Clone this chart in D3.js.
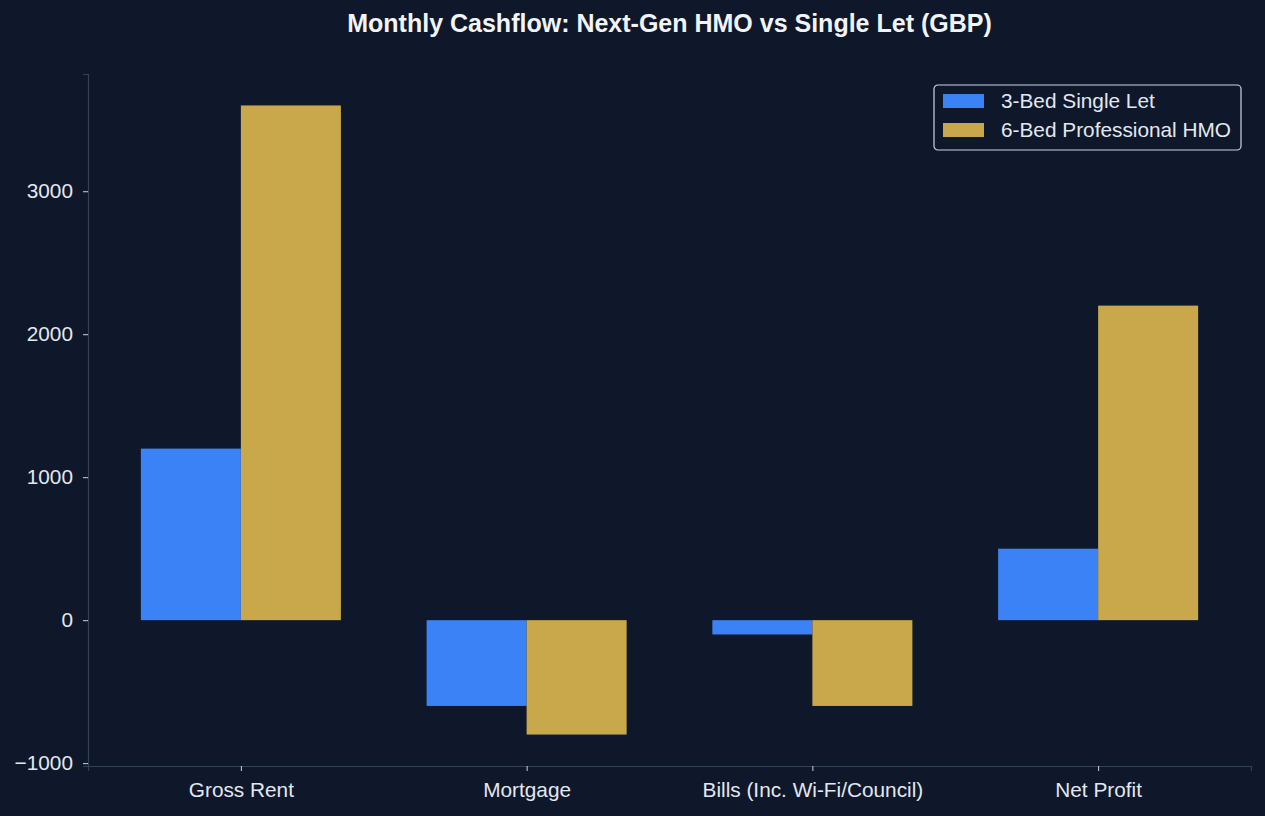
<!DOCTYPE html>
<html>
<head>
	<meta charset="utf-8">
	<script src="https://d3js.org/d3.v7.min.js"></script>
	<style>
		body { margin: 0; background: #0f172a; }
		text { font-family: "Liberation Sans", Arial, sans-serif; }
	</style>
</head>
<body>
	<div id="my_dataviz"></div>
	<script>

	// chart data
	const categories = ["Gross Rent", "Mortgage", "Bills (Inc. Wi-Fi/Council)", "Net Profit"]
	const singleLet = [1200, -600, -100, 500]
	const hmo = [3600, -800, -600, 2200]
	const seriesNames = ["3-Bed Single Let", "6-Bed Professional HMO"]
	const yTicks = [-1000, 0, 1000, 2000, 3000]

	const width = 1265
	const height = 816
	const margin = { left: 88, right: 14, top: 74, bottom: 50 }
	const colors = ["#3b82f6", "#c9a84c"]
	const textColor = "#e2e8f0"
	const spineColor = "#334155"
	const fontSize = "20.8px"

	const svg = d3.select("#my_dataviz")
	  .append("svg")
	    .attr("width", width)
	    .attr("height", height)
	    .style("background", "#0f172a")

	// x in "category units" like matplotlib: bars of width 0.35 either side of the index
	const barW = 0.35
	const x = d3.scaleLinear()
	  .domain([-0.535, categories.length - 1 + 0.535])
	  .range([margin.left, width - margin.right])

	const y = d3.scaleLinear()
	  .domain([-1020, 3820])
	  .range([height - margin.bottom, margin.top])

	// bars
	const series = [singleLet, hmo]
	series.forEach((vals, s) => {
	  svg.append("g")
	    .selectAll("rect")
	    .data(vals)
	    .join("rect")
	      .attr("x", (d, i) => x(i + (s === 0 ? -barW : 0)))
	      .attr("width", x(barW) - x(0))
	      .attr("y", d => y(Math.max(0, d)))
	      .attr("height", d => Math.abs(y(d) - y(0)))
	      .attr("fill", colors[s])
	})

	// y axis
	const yAxis = svg.append("g")
	  .attr("transform", `translate(${margin.left},0)`)
	  .call(d3.axisLeft(y).tickValues(yTicks).tickSize(5).tickPadding(10)
	    .tickFormat(d => d < 0 ? "\u2212" + Math.abs(d) : d))
	yAxis.select(".domain").attr("stroke", spineColor).attr("stroke-width", 1.2)
	yAxis.selectAll(".tick line").attr("stroke", "#cbd5e1")
	yAxis.selectAll(".tick text").attr("fill", textColor).style("font-size", fontSize)

	// x axis
	const xAxis = svg.append("g")
	  .attr("transform", `translate(0,${height - margin.bottom})`)
	  .call(d3.axisBottom(x).tickValues(d3.range(categories.length)).tickSize(5).tickPadding(11)
	    .tickFormat(i => categories[i]))
	xAxis.select(".domain").attr("stroke", spineColor).attr("stroke-width", 1.2)
	xAxis.selectAll(".tick line").attr("stroke", "#cbd5e1")
	xAxis.selectAll(".tick text").attr("fill", textColor).style("font-size", fontSize)

	// title
	svg.append("text")
	  .attr("x", (margin.left + width - margin.right) / 2)
	  .attr("y", 32)
	  .attr("text-anchor", "middle")
	  .attr("fill", "#f1f5f9")
	  .style("font-size", "25px")
	  .style("font-weight", "bold")
	  .text("Monthly Cashflow: Next-Gen HMO vs Single Let (GBP)")

	// legend
	const legend = svg.append("g").attr("transform", "translate(934,85)")
	legend.append("rect")
	  .attr("width", 307).attr("height", 65).attr("rx", 4)
	  .attr("fill", "#0f172a").attr("stroke", "#cbd5e1").attr("stroke-width", 1.2)
	seriesNames.forEach((name, i) => {
	  legend.append("rect")
	    .attr("x", 9).attr("y", 9 + i * 29)
	    .attr("width", 41).attr("height", 14)
	    .attr("fill", colors[i])
	  legend.append("text")
	    .attr("x", 67).attr("y", 23 + i * 29)
	    .attr("fill", textColor)
	    .style("font-size", fontSize)
	    .text(name)
	})

	</script>
</body>
</html>
